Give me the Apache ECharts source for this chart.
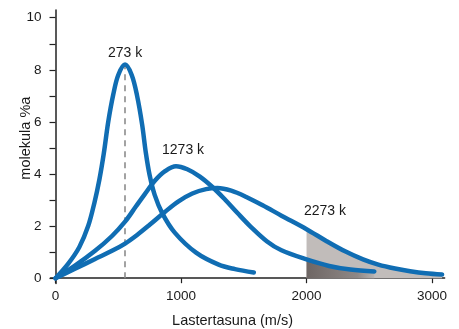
<!DOCTYPE html>
<html>
<head>
<meta charset="utf-8">
<style>
  html, body { margin: 0; padding: 0; background: #fff; }
  #chart { width: 459px; height: 329px; }
</style>
<script src="https://cdn.jsdelivr.net/npm/echarts@6/dist/echarts.min.js"></script>
</head>
<body>
<div id="chart"></div>
<script>
// Speed distributions of molecules at three temperatures: [speed (m/s), share of molecules (%)]
const curve273 = [
  [0, 0], [100, 0.55], [190, 1.2], [260, 2.0], [310, 2.9], [350, 3.8], [385, 4.8],
  [420, 6.0], [460, 7.05], [500, 7.8], [554, 8.2], [607, 7.8], [650, 7.0], [690, 5.9],
  [720, 4.8], [750, 3.95], [790, 3.2], [850, 2.5], [950, 1.75], [1120, 0.98],
  [1300, 0.52], [1430, 0.35], [1580, 0.22]
];
const curve1273 = [
  [0, 0], [155, 0.48], [315, 1.05], [450, 1.62], [554, 2.17], [640, 2.75], [713, 3.24],
  [793, 3.75], [870, 4.1], [960, 4.3], [1050, 4.18], [1150, 3.9], [1250, 3.5],
  [1350, 3.02], [1450, 2.5], [1550, 2.0], [1683, 1.42], [1800, 1.07], [2000, 0.72],
  [2180, 0.47], [2350, 0.33], [2540, 0.26]
];
const curve2273 = [
  [0, 0], [155, 0.36], [315, 0.74], [450, 1.05], [554, 1.33], [650, 1.66], [750, 2.05],
  [873, 2.55], [980, 2.95], [1090, 3.25], [1200, 3.42], [1290, 3.46], [1400, 3.36],
  [1520, 3.12], [1650, 2.8], [1800, 2.4], [2000, 1.88], [2160, 1.42], [2307, 1.03],
  [2450, 0.72], [2572, 0.52], [2705, 0.37], [2825, 0.27], [2950, 0.19], [3080, 0.14]
];
const curveNames = ['273 k', '1273 k', '2273 k'];
const shadeFrom = 2000;               // speeds above this are shaded
const xTickValues = [0, 1000, 2000, 3000];
const yTickValues = [0, 1, 2, 3, 4, 5, 6, 7, 8, 9, 10];
const yLabelValues = [0, 2, 4, 6, 8, 10];

const FONT = '"Liberation Sans", Arial, Helvetica, sans-serif';
const BLUE = '#106db3';
const SMOOTH = 0.35;

// Peak of the coldest curve, marked with a dashed drop line
const peak273 = curve273.reduce((a, b) => (b[1] > a[1] ? b : a));

const tail = (pts) => pts.filter((p) => p[0] >= shadeFrom);

function curveSeries(name, data, labelCoord) {
  return {
    name: name,
    type: 'line',
    data: data,
    smooth: SMOOTH,
    showSymbol: false,
    z: 5,
    lineStyle: { color: BLUE, width: 4.5, cap: 'round' },
    markPoint: {
      silent: true,
      symbol: 'circle',
      symbolSize: 0,
      data: [{ coord: labelCoord, value: name }],
      label: {
        show: true, position: 'inside', formatter: name,
        color: '#1a1a1a', fontSize: 14, fontFamily: FONT
      }
    }
  };
}

const chart = echarts.init(document.getElementById('chart'), null, { renderer: 'canvas' });

const s273 = curveSeries(curveNames[0], curve273, [554, 8.65]);
s273.markLine = {
  silent: true,
  symbol: 'none',
  label: { show: false },
  lineStyle: { color: '#8c8c8c', width: 1.6, type: [6, 5] },
  data: [[{ coord: [peak273[0], 0] }, { coord: [peak273[0], peak273[1]] }]]
};

chart.setOption({
  animation: false,
  backgroundColor: '#fff',
  grid: { left: 50.5, right: 14.4, top: 9.9, bottom: 45.6, containLabel: false, outerBoundsMode: 'none' },
  xAxis: {
    type: 'value',
    min: -40, max: 3100,
    axisLine: { onZero: true, lineStyle: { color: '#222', width: 1.5 } },
    axisTick: { show: true, length: 5, customValues: xTickValues, lineStyle: { color: '#222', width: 1.2 } },
    axisLabel: {
      customValues: xTickValues, margin: 6, color: '#1a1a1a', fontSize: 13.5, fontFamily: FONT,
      formatter: (v) => String(v)
    },
    splitLine: { show: false },
    name: 'Lastertasuna (m/s)',
    nameLocation: 'middle',
    nameGap: 30,
    nameMoveOverlap: false,
    nameTextStyle: { color: '#1a1a1a', fontSize: 14.5, fontFamily: FONT, padding: [0, 30, 0, 0] }
  },
  yAxis: {
    type: 'value',
    min: -0.2, max: 10.3,
    axisLine: { show: true, onZero: true, lineStyle: { color: '#222', width: 1.5 } },
    axisTick: { show: true, length: 6, customValues: yTickValues, lineStyle: { color: '#222', width: 1.2 } },
    axisLabel: {
      customValues: yLabelValues, margin: 9, color: '#1a1a1a', fontSize: 13.5, fontFamily: FONT,
      formatter: (v) => String(v)
    },
    splitLine: { show: false },
    name: 'molekula %a',
    nameLocation: 'middle',
    nameGap: 17,
    nameMoveOverlap: false,
    nameTextStyle: { color: '#1a1a1a', fontSize: 14.5, fontFamily: FONT, padding: [0, 0, 0, 17] }
  },
  series: [
    {
      name: 'fast-2273',
      type: 'line',
      data: tail(curve2273),
      smooth: SMOOTH,
      showSymbol: false,
      silent: true,
      z: 1,
      lineStyle: { width: 0 },
      areaStyle: { color: '#c1bcba', opacity: 1 }
    },
    {
      name: 'fast-1273',
      type: 'line',
      data: tail(curve1273),
      smooth: SMOOTH,
      showSymbol: false,
      silent: true,
      z: 2,
      lineStyle: { width: 0 },
      areaStyle: {
        opacity: 1,
        color: new echarts.graphic.LinearGradient(0, 0, 1, 0, [
          { offset: 0, color: '#6e6664' },
          { offset: 0.75, color: '#8f8886' },
          { offset: 1, color: '#b7b2b0' }
        ])
      }
    },
    s273,
    curveSeries(curveNames[1], curve1273, [1016, 4.92]),
    curveSeries(curveNames[2], curve2273, [2147, 2.58])
  ]
});
</script>
</body>
</html>
